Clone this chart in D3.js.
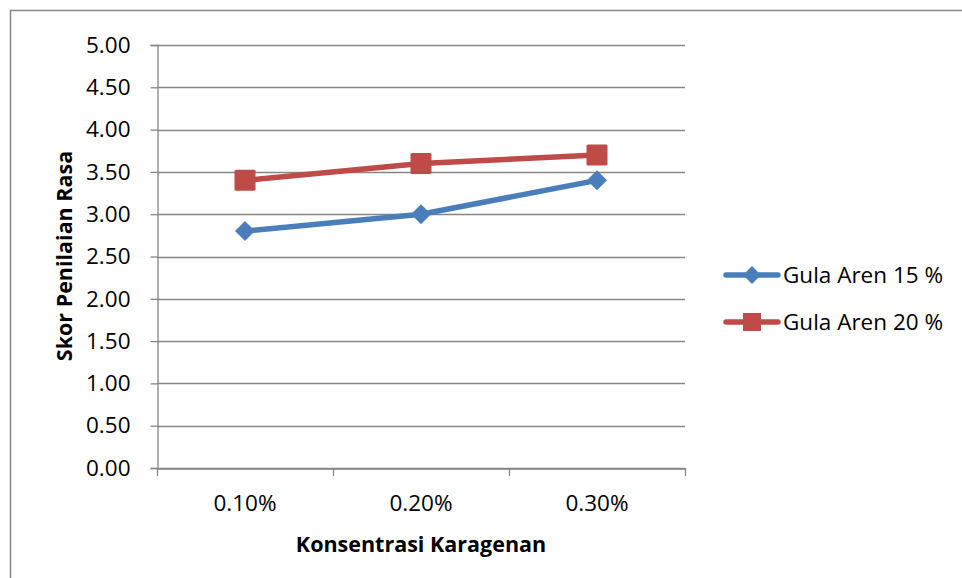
<!DOCTYPE html>
<html><head><meta charset="utf-8">
<script src="https://cdn.jsdelivr.net/npm/d3@7"></script>
<style>body{margin:0;background:#fff;} text{font-family:"Open Sans", sans-serif;}</style>
</head><body>
<svg id="c" width="962" height="578"></svg>
<script>
const categories = ["0.10%", "0.20%", "0.30%"];
const gula15 = [2.8, 3.0, 3.4];
const gula20 = [3.4, 3.6, 3.7];
const seriesNames = ["Gula Aren 15 %", "Gula Aren 20 %"];
const yTicks = [0, 0.5, 1, 1.5, 2, 2.5, 3, 3.5, 4, 4.5, 5];

const FONT = '"Open Sans", sans-serif';
const FS = 22.5;
const FT = 21.5;
const svg = d3.select("#c");
svg.append("rect").attr("x",10.5).attr("y",10.5).attr("width",1000).attr("height",1000)
  .attr("fill","none").attr("stroke","#868686").attr("stroke-width",1.5);

const x0 = 157, x1 = 685, yTop = 45, yBot = 468;
const x = d3.scaleBand().domain(categories).range([x0, x1]);
const y = d3.scaleLinear().domain([0,5]).range([yBot, yTop]);

svg.append("g").selectAll("line").data(yTicks).join("line")
  .attr("x1",x0).attr("x2",x1).attr("y1",d=>Math.round(y(d))+0.5).attr("y2",d=>Math.round(y(d))+0.5)
  .attr("stroke","#868686").attr("stroke-width",1.3);

const ya = svg.append("g").attr("transform",`translate(${x0+0.5},0)`)
  .call(d3.axisLeft(y).tickValues(yTicks).tickFormat(d3.format(".2f")).tickSize(7).tickPadding(20));
ya.select(".domain").attr("stroke","#868686").attr("stroke-width",1.3);
ya.selectAll(".tick line").attr("stroke","#868686").attr("stroke-width",1.3);
ya.selectAll("text").attr("font-size",FS).attr("fill","#000").style("font-family",FONT);

const xa = svg.append("g").attr("transform",`translate(0,${yBot+0.5})`)
  .call(d3.axisBottom(x).tickSize(0).tickPadding(27));
xa.select(".domain").attr("stroke","#868686").attr("stroke-width",1.3);
xa.selectAll("text").attr("font-size",FS).attr("fill","#000").style("font-family",FONT);
const bounds = categories.map(c=>x(c)).concat([x1]);
svg.append("g").selectAll("line").data(bounds).join("line")
  .attr("x1",d=>Math.round(d)+0.5).attr("x2",d=>Math.round(d)+0.5).attr("y1",yBot).attr("y2",yBot+8)
  .attr("stroke","#868686").attr("stroke-width",1.3);

const cx = c => x(c) + x.bandwidth()/2;
const line = d3.line().x((d,i)=>cx(categories[i])).y(d=>y(d));

const blue = "#4A7EBB", red = "#BE4B48";
svg.append("path").datum(gula15).attr("d",line).attr("fill","none").attr("stroke",blue).attr("stroke-width",5.5).attr("stroke-linejoin","round");
svg.append("path").datum(gula20).attr("d",line).attr("fill","none").attr("stroke",red).attr("stroke-width",5.5).attr("stroke-linejoin","round");

const diamond = d3.symbol().type(d3.symbolSquare).size(200);
svg.append("g").selectAll("path").data(gula15).join("path")
  .attr("d",diamond).attr("fill",blue)
  .attr("transform",(d,i)=>`translate(${cx(categories[i])},${y(d)}) rotate(45)`);
svg.append("g").selectAll("rect").data(gula20).join("rect")
  .attr("x",(d,i)=>cx(categories[i])-10.5).attr("y",d=>y(d)-10.5).attr("width",21).attr("height",21)
  .attr("rx",1.5).attr("fill",red);

svg.append("text").attr("x",421).attr("y",552).attr("text-anchor","middle")
  .attr("font-size",FT).attr("font-weight","bold").text("Konsentrasi Karagenan");
svg.append("text").attr("transform","translate(72,256) rotate(-90)").attr("text-anchor","middle")
  .attr("font-size",FT).attr("font-weight","bold").text("Skor Penilaian Rasa");

const lg = svg.append("g");
const ly = [275, 322];
[blue, red].forEach((col,i)=>{
  lg.append("line").attr("x1",726).attr("x2",778).attr("y1",ly[i]).attr("y2",ly[i])
    .attr("stroke",col).attr("stroke-width",5.5).attr("stroke-linecap","round");
  lg.append("text").attr("x",783).attr("y",ly[i]+7.5).attr("font-size",FS).text(seriesNames[i]);
});
lg.append("path").attr("d",d3.symbol().type(d3.symbolSquare).size(160)).attr("fill",blue)
  .attr("transform",`translate(752,${ly[0]}) rotate(45)`);
lg.append("rect").attr("x",743).attr("y",ly[1]-9).attr("width",18).attr("height",18).attr("fill",red);
</script>
</body></html>
